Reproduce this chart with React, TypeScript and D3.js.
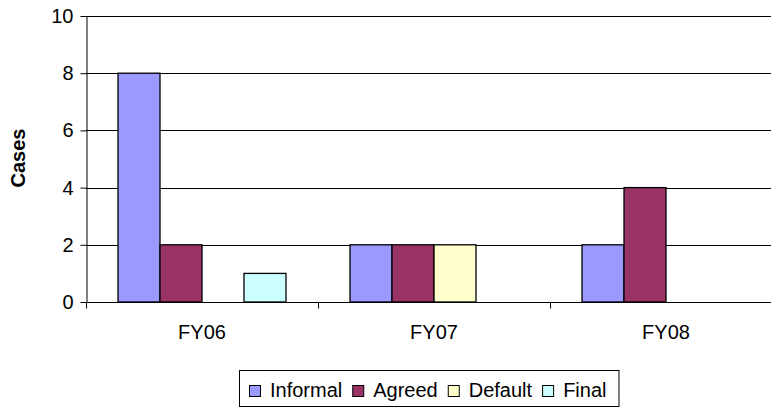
import React, { useEffect, useRef } from "react";
import * as d3 from "d3";

const categories = ["FY06", "FY07", "FY08"];
const seriesNames = ["Informal", "Agreed", "Default", "Final"];
const informal = [8, 2, 2];
const agreed = [2, 2, 4];
const defaulted = [0, 2, 0];
const final = [1, 0, 0];
const yTicks = [0, 2, 4, 6, 8, 10];
const colors = ["#9999ff", "#993366", "#ffffcc", "#ccffff"];

const W = 771;
const H = 408;
const FONT = "'Liberation Sans', Arial, sans-serif";

export default function App() {
  const ref = useRef<SVGSVGElement>(null);

  useEffect(() => {
    const svg = d3.select(ref.current);
    svg.selectAll("*").remove();

    const left = 86, right = 782, top = 16, bottom = 302;
    const values = [informal, agreed, defaulted, final];

    const x0 = d3.scaleBand().domain(categories).range([left, right])
      .paddingInner(0.276).paddingOuter(0.138);
    const x1 = d3.scaleBand().domain(seriesNames).range([0, x0.bandwidth()]);
    const y = d3.scaleLinear().domain([0, 10]).range([bottom, top]);

    // grid
    svg.append("g").selectAll("line").data(yTicks.filter(d => d > 0)).enter()
      .append("line")
      .attr("x1", left).attr("x2", right)
      .attr("y1", d => Math.round(y(d)) + 0.5).attr("y2", d => Math.round(y(d)) + 0.5)
      .attr("stroke", "#000").attr("stroke-width", 1);

    // bars
    seriesNames.forEach((s, si) => {
      svg.append("g").selectAll("rect").data(categories).enter()
        .filter((_, ci) => values[si][ci] > 0)
        .append("rect")
        .attr("x", c => x0(c)! + x1(s)!)
        .attr("y", (c) => y(values[si][categories.indexOf(c)]))
        .attr("width", x1.bandwidth())
        .attr("height", (c) => bottom - y(values[si][categories.indexOf(c)]))
        .attr("fill", colors[si])
        .attr("stroke", "#000").attr("stroke-width", 1.3);
    });

    // axes
    const ya = svg.append("g").attr("transform", `translate(${left + 0.5},0)`)
      .call(d3.axisLeft(y).tickValues(yTicks).tickSize(6).tickSizeOuter(0).tickPadding(7));
    ya.select(".domain").attr("stroke", "#000");
    ya.selectAll(".tick line").attr("stroke", "#000");
    ya.selectAll("text").attr("font-family", FONT).attr("font-size", 20).attr("fill", "#000");

    const xa = svg.append("g").attr("transform", `translate(0,${bottom + 0.5})`);
    xa.append("line").attr("x1", left).attr("x2", right).attr("y1", 0).attr("y2", 0).attr("stroke", "#000");
    const bounds = [left, ...categories.map(c => x0(c)! + x0.bandwidth() + x0.step() * 0.138)];
    xa.selectAll(".tk").data(bounds).enter().append("line")
      .attr("x1", d => Math.round(d) + 0.5).attr("x2", d => Math.round(d) + 0.5)
      .attr("y1", 0).attr("y2", 6).attr("stroke", "#000");
    xa.selectAll("text").data(categories).enter().append("text")
      .attr("x", c => x0(c)! + x0.bandwidth() / 2)
      .attr("y", 36)
      .attr("text-anchor", "middle")
      .attr("font-family", FONT).attr("font-size", 20)
      .text(c => c);

    // y title
    svg.append("text")
      .attr("transform", `translate(25,158) rotate(-90)`)
      .attr("text-anchor", "middle")
      .attr("font-family", FONT).attr("font-size", 20).attr("font-weight", "bold")
      .text("Cases");

    // legend
    const lg = svg.append("g");
    const box = lg.append("rect")
      .attr("x", 239.5).attr("y", 370.5).attr("height", 36)
      .attr("fill", "#fff").attr("stroke", "#000");
    let cx = 249;
    seriesNames.forEach((s, si) => {
      lg.append("rect").attr("x", cx + 0.5).attr("y", 385.5).attr("width", 11).attr("height", 11)
        .attr("fill", colors[si]).attr("stroke", "#000");
      const t = lg.append("text").attr("x", cx + 21).attr("y", 397)
        .attr("font-family", FONT).attr("font-size", 20).text(s);
      const len = (t.node() as SVGTextElement).getComputedTextLength();
      cx += 21 + len + 10;
    });
    box.attr("width", cx - 239 + 2);
  }, []);

  return (
    <svg ref={ref} width={W} height={H}
      style={{ position: "absolute", left: 0, top: 0, background: "#fff" }} />
  );
}
